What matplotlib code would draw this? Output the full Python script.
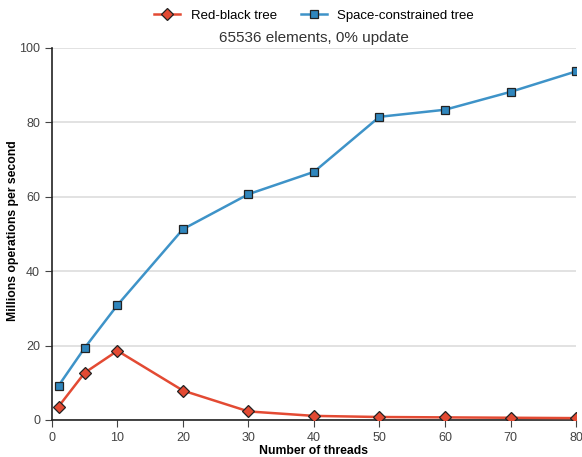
import matplotlib.pyplot as plt

plt.rcParams['font.family'] = ['Liberation Sans', 'DejaVu Sans']

# Throughput per thread count
threads = [1, 5, 10, 20, 30, 40, 50, 60, 70, 80]
rb_tree = [3.6, 12.7, 18.6, 7.9, 2.3, 1.1, 0.8, 0.7, 0.6, 0.5]
sc_tree = [9.2, 19.4, 30.9, 51.3, 60.7, 66.7, 81.5, 83.4, 88.2, 93.7]

x_ticks = [0, 10, 20, 30, 40, 50, 60, 70, 80]
y_ticks = [0, 20, 40, 60, 80, 100]

fig = plt.figure(figsize=(5.82, 4.57), dpi=100)
ax = fig.add_axes([0.0893, 0.081, 0.9004, 0.814])

ax.plot(threads, rb_tree, color='#e34a33', lw=1.8, marker='D', ms=6,
        mfc='#e34a33', mec='#222222', mew=0.9, label='Red-black tree', zorder=3)
ax.plot(threads, sc_tree, color='#3e93c8', lw=1.8, marker='s', ms=6,
        mfc='#2f86bd', mec='#222222', mew=0.9, label='Space-constrained tree', zorder=3)

ax.set_xlim(0, 80)
ax.set_ylim(0, 100)
ax.set_xticks(x_ticks)
ax.set_yticks(y_ticks)
ax.grid(axis='y', color='#dddddd', lw=1.2)
ax.set_axisbelow(True)
for s in ['top', 'right']:
    ax.spines[s].set_visible(False)
for s in ['left', 'bottom']:
    ax.spines[s].set_color('#222222')
    ax.spines[s].set_linewidth(1.2)
ax.tick_params(labelsize=9, colors='#444444', length=5)

ax.set_xlabel('Number of threads', fontsize=8.8, fontweight='bold')
ax.set_ylabel('Millions operations per second', fontsize=8.8, fontweight='bold')
ax.xaxis.set_label_coords(0.5, -0.066)
ax.yaxis.set_label_coords(-0.062, 0.51)
ax.set_title('65536 elements, 0% update', fontsize=11, color='#333333', pad=4)

ax.legend(loc='upper center', bbox_to_anchor=(0.5, 1.135), ncol=2, frameon=False,
          fontsize=9.5, handlelength=2.0, handletextpad=0.8, columnspacing=1.8)

fig.savefig('out.png', dpi=100)
